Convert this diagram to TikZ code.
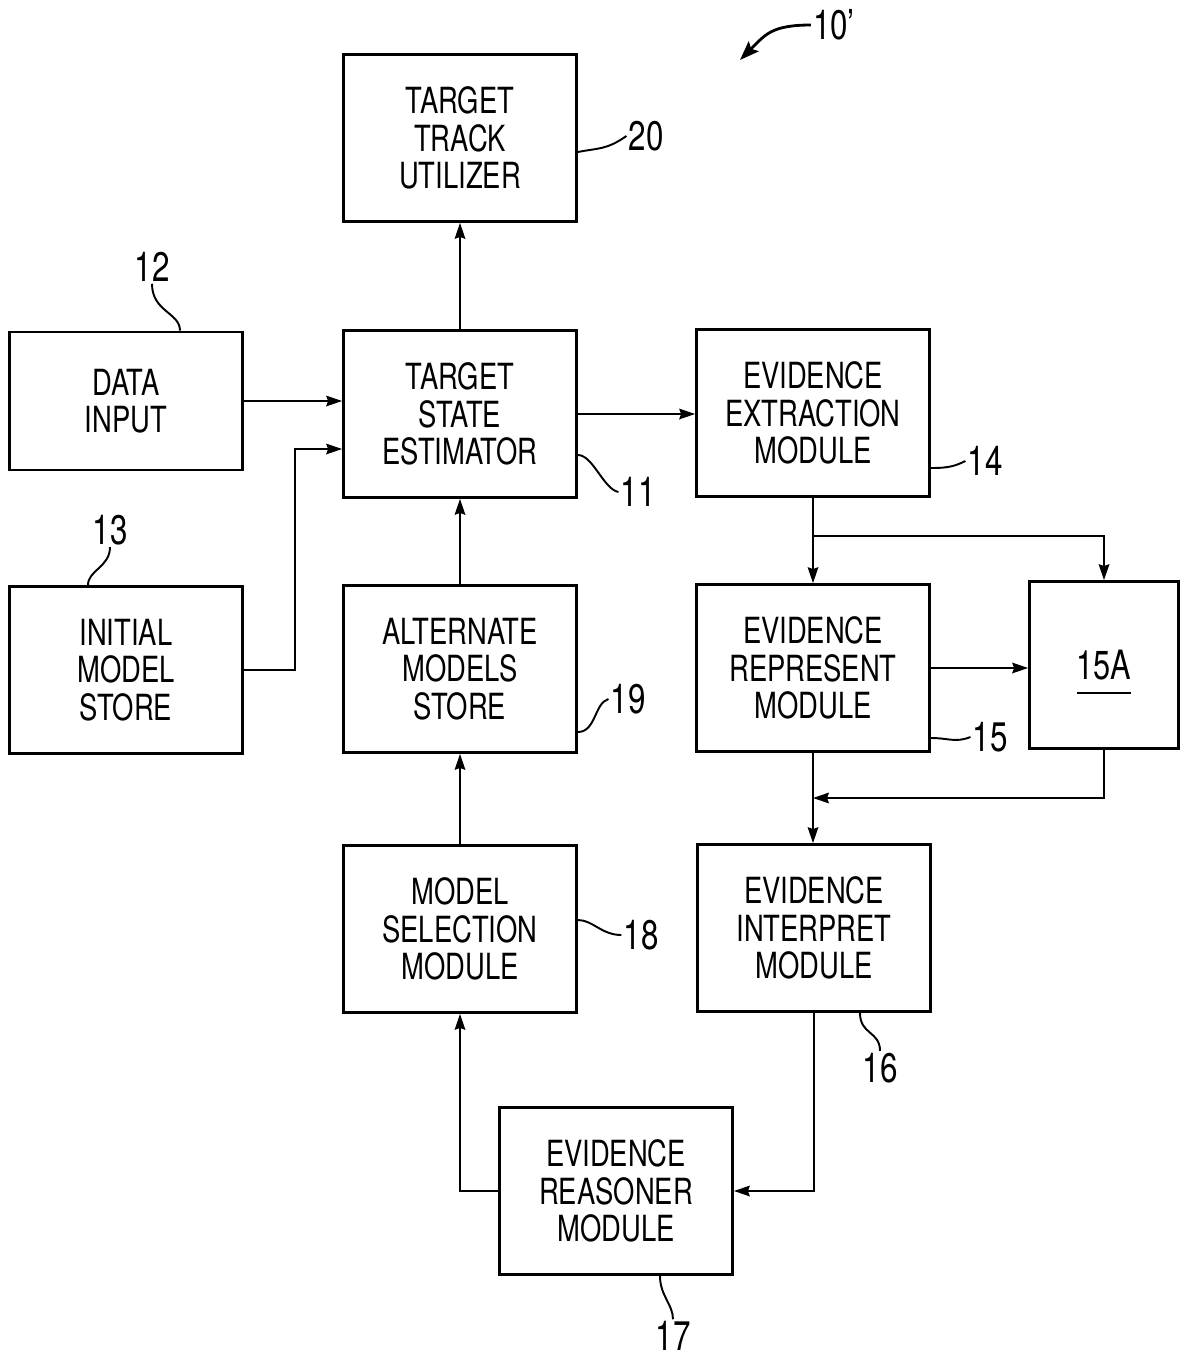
\documentclass[tikz,border=0pt]{standalone}
\usepackage{fontspec}
\setmainfont{TeX Gyre Heros}[FakeStretch=0.76]
\usepackage{tikz}
\usetikzlibrary{arrows.meta,calc}

\begin{document}
\begin{tikzpicture}[x=0.02cm, y=-0.02cm,
    >={Stealth[length=9pt,width=6pt,inset=1pt]},
    box/.style={draw, line width=1.6pt, minimum width=4.66cm, minimum height=3.34cm,
        align=center, font=\fontsize{20.5}{21.3}\selectfont, inner sep=0pt},
    flow/.style={line width=1.2pt},
    lead/.style={line width=1.1pt},
    num/.style={font=\fontsize{23.5}{24}\selectfont, inner sep=1pt}]

        % Page frame
        \useasboundingbox (0,0) rectangle (1188,1363);

        % Blocks of the tracker
        \node[box] (ttu) at (460,138) {TARGET\\TRACK\\UTILIZER};
        \node[box, minimum height=2.76cm] (din) at (126,401) {DATA\\INPUT};
        \node[box] (tse) at (460,414) {TARGET\\STATE\\ESTIMATOR};
        \node[box] (eem) at (813,413) {EVIDENCE\\EXTRACTION\\MODULE};
        \node[box] (ims) at (126,670) {INITIAL\\MODEL\\STORE};
        \node[box] (ams) at (460,669) {ALTERNATE\\MODELS\\STORE};
        \node[box] (erm) at (813,668) {EVIDENCE\\REPRESENT\\MODULE};
        \node[box, minimum width=2.98cm, font=\fontsize{23}{24}\selectfont] (b15a) at (1104,665) {15A};
        \node[box] (msm) at (460,929) {MODEL\\SELECTION\\MODULE};
        \node[box] (eim) at (814,928) {EVIDENCE\\INTERPRET\\MODULE};
        \node[box] (ers) at (616,1191) {EVIDENCE\\REASONER\\MODULE};

        % Underline of 15A
        \draw[line width=1.3pt] ($(b15a.center)+(-27,28)$) -- ($(b15a.center)+(27,28)$);

        % Signal flow
        \draw[flow, ->] (tse) -- (ttu);
        \draw[flow, ->] (din.east) -- (din.east -| tse.west);
        \draw[flow, ->] (ims.east) -- ++(51,0) |- ($(tse.west)+(0,35)$);
        \draw[flow, ->] (tse.east) -- (tse.east -| eem.west);
        \draw[flow] (eem.south) -- ++(0,38) coordinate (split);
        \draw[flow, ->] (split) -- (erm.north);
        \draw[flow, ->] (split) -| (b15a.north);
        \draw[flow, ->] (erm.east) -- (erm.east -| b15a.west);
        \draw[flow, ->] (erm.south) -- (erm.south |- eim.north);
        \draw[flow, ->] (b15a.south) |- ($(erm.south)!.5!(erm.south |- eim.north)$);
        \draw[flow, ->] (eim.south) |- (ers.east);
        \draw[flow, ->] (ers.west) -| (msm.south);
        \draw[flow, ->] (msm) -- (ams);
        \draw[flow, ->] (ams) -- (tse);

        % Reference numerals
        \node[num] (lab10) at (834,25) {10'};
        \node[num] (lab20) at (646,136) {20};
        \node[num] (lab12) at (152,267) {12};
        \node[num] (lab11) at (638,492) {11};
        \node[num] (lab14) at (985,461) {14};
        \node[num] (lab13) at (110,530) {13};
        \node[num] (lab19) at (628,699) {19};
        \node[num] (lab15) at (990,737) {15};
        \node[num] (lab18) at (641,935) {18};
        \node[num] (lab16) at (880,1068) {16};
        \node[num] (lab17) at (673,1336) {17};

        % Leader lines
        \draw[lead] ($(ttu.east)+(0,14)$) .. controls +(20,-4) and +(-20,14) .. (lab20.west);
        \draw[lead] (lab12.south) .. controls +(0,28) and +(0,-18) .. ($(din.north)+(54,0)$);
        \draw[lead] ($(tse.east)+(0,41)$) .. controls +(15,0) and +(-15,-3) .. (lab11.west);
        \draw[lead] ($(eem.east)+(0,55)$) .. controls +(15,0) and +(-12,6) .. (lab14.west);
        \draw[lead] (lab13.south) .. controls +(0,20) and +(0,-15) .. ($(ims.north)+(-38,0)$);
        \draw[lead] ($(ams.east)+(0,63)$) .. controls +(18,0) and +(-14,4) .. (lab19.west);
        \draw[lead] ($(erm.east)+(0,70)$) .. controls +(18,0) and +(-15,6) .. (lab15.west);
        \draw[lead] ($(msm.east)+(0,-9)$) .. controls +(15,0) and +(-20,0) .. (lab18.west);
        \draw[lead] ($(eim.south)+(46,0)$) .. controls +(0,22) and +(0,-20) .. (lab16.north);
        \draw[lead] ($(ers.south)+(44,0)$) .. controls +(0,20) and +(0,-15) .. (lab17.north);

        % Figure arrow
        \coordinate (tip10) at (740,60);
        \draw[lead, line width=1.6pt, -{Stealth[length=11pt,width=8pt,inset=2pt]}] (lab10.west) .. controls +(-40,0) and +(25,-25) .. (tip10);

    \end{tikzpicture}
\end{document}
